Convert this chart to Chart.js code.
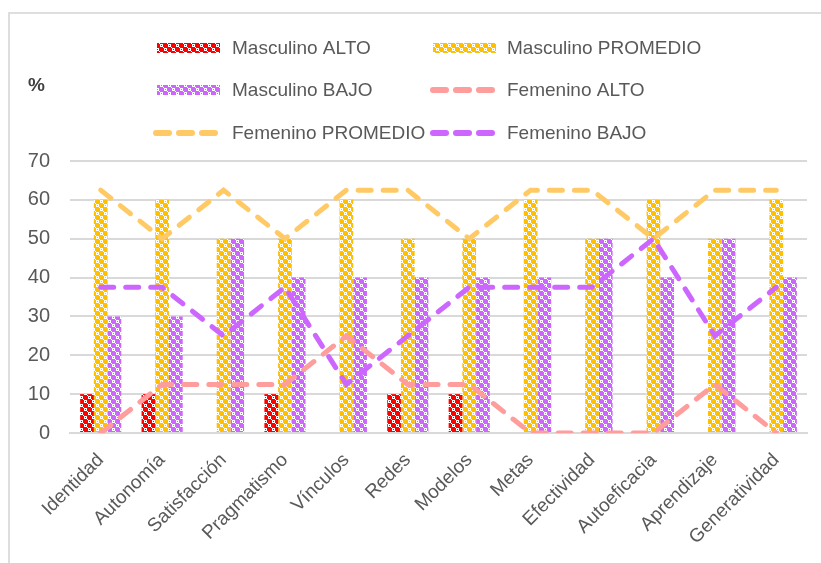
<!DOCTYPE html>
<html>
<head>
<meta charset="utf-8">
<script src="https://cdn.jsdelivr.net/npm/chart.js@4"></script>
<style>
  html,body{margin:0;padding:0;background:#fff;overflow:hidden;}
  #frame{position:absolute;left:8px;top:12px;width:830px;height:570px;border:2px solid #dedede;box-sizing:border-box;}
  #wrap{position:absolute;left:0;top:0;width:821px;height:563px;}
</style>
</head>
<body>
<div id="frame"></div>
<div id="wrap"><canvas id="c" width="821" height="563"></canvas></div>
<script>
// ---- data ----
const categories = ["Identidad","Autonomía","Satisfacción","Pragmatismo","Vínculos","Redes","Modelos","Metas","Efectividad","Autoeficacia","Aprendizaje","Generatividad"];
const masculinoAlto     = [10,10,0,10,0,10,10,0,0,0,0,0];
const masculinoPromedio = [60,60,50,50,60,50,50,60,50,60,50,60];
const masculinoBajo     = [30,30,50,40,40,40,40,40,50,40,50,40];
const femeninoAlto      = [0,12.5,12.5,12.5,25,12.5,12.5,0,0,0,12.5,0];
const femeninoPromedio  = [62.5,50,62.5,50,62.5,62.5,50,62.5,62.5,50,62.5,62.5];
const femeninoBajo      = [37.5,37.5,25,37.5,12.5,25,37.5,37.5,37.5,50,25,37.5];
const yTicks = [0,10,20,30,40,50,60,70];
const yAxisTitle = "%";

// ---- styles ----
const RED = "#ff0000", YEL = "#ffc000", PUR = "#cc66ff";
const L_PINK = "#ff9c9c", L_YEL = "#ffca66", L_PUR = "#cc66ff";
const TXT = "#595959";
const FONT = "'Liberation Sans', Arial, sans-serif";

function makePattern(color){
  const t = document.createElement("canvas");
  t.width = 8; t.height = 8;
  const g = t.getContext("2d");
  g.fillStyle = color; g.fillRect(0,0,8,8);
  g.fillStyle = "#ffffff";
  g.fillRect(0,4,3,3);
  g.fillRect(4,0,3,3);
  g.fillRect(3,7,1,1);
  g.fillRect(7,3,1,1);
  g.fillStyle = color;
  g.fillRect(1,5,1,1);
  g.fillRect(5,1,1,1);
  return g.createPattern(t,"repeat");
}
const ctx0 = document.getElementById("c").getContext("2d");
const pRed = makePattern(RED), pYel = makePattern(YEL), pPur = makePattern(PUR);

const barDs = (label, data, pat) => ({
  type:"bar", label, data, backgroundColor:pat, borderWidth:0,
  categoryPercentage:0.67, barPercentage:1.0, order:2
});
const lineDs = (label, data, col) => ({
  type:"line", label, data, borderColor:col, backgroundColor:col,
  borderWidth:5, borderDash:[13,12], borderCapStyle:"round",
  pointRadius:0, tension:0, fill:false, order:1
});

const legendItems = [
  {label:"Masculino ALTO", kind:"bar", style:pRed, x:157, tx:232, y:48},
  {label:"Masculino PROMEDIO", kind:"bar", style:pYel, x:433, tx:507, y:48},
  {label:"Masculino BAJO", kind:"bar", style:pPur, x:157, tx:232, y:90},
  {label:"Femenino ALTO", kind:"line", style:L_PINK, x:430, tx:507, y:90},
  {label:"Femenino PROMEDIO", kind:"line", style:L_YEL, x:153, tx:232, y:133},
  {label:"Femenino BAJO", kind:"line", style:L_PUR, x:430, tx:507, y:133}
];

const legendPlugin = {
  id:"customLegend",
  afterDraw(chart){
    const ctx = chart.ctx;
    ctx.save();
    ctx.font = "19px " + FONT;
    ctx.textBaseline = "middle";
    ctx.textAlign = "left";
    legendItems.forEach(it=>{
      if(it.kind==="bar"){
        ctx.fillStyle = it.style;
        ctx.fillRect(it.x, it.y-5, 63, 10);
      } else {
        ctx.strokeStyle = it.style;
        ctx.lineWidth = 6;
        ctx.lineCap = "round";
        ctx.setLineDash([13,10]);
        ctx.beginPath();
        ctx.moveTo(it.x+3, it.y); ctx.lineTo(it.x+63, it.y);
        ctx.stroke();
        ctx.setLineDash([]);
      }
      ctx.fillStyle = TXT;
      ctx.fillText(it.label, it.tx, it.y+1);
    });
    ctx.font = "bold 19px " + FONT;
    ctx.fillStyle = "#404040";
    ctx.fillText(yAxisTitle, 28, 86);
    ctx.restore();
  }
};

new Chart(ctx0, {
  data:{
    labels:categories,
    datasets:[
      barDs("Masculino ALTO", masculinoAlto, pRed),
      barDs("Masculino PROMEDIO", masculinoPromedio, pYel),
      barDs("Masculino BAJO", masculinoBajo, pPur),
      lineDs("Femenino ALTO", femeninoAlto, L_PINK),
      lineDs("Femenino PROMEDIO", femeninoPromedio, L_YEL),
      lineDs("Femenino BAJO", femeninoBajo, L_PUR)
    ]
  },
  options:{
    responsive:false,
    animation:false,
    layout:{padding:{top:161, left:0, right:14, bottom:0}},
    plugins:{legend:{display:false}, tooltip:{enabled:false}},
    scales:{
      x:{
        offset:true,
        grid:{display:false, drawTicks:false},
        border:{display:true, color:"#d9d9d9", width:2},
        ticks:{color:TXT, font:{family:FONT, size:19}, maxRotation:45, minRotation:45, padding:16, autoSkip:false},
        afterFit(s){ s.paddingLeft = 0; s.paddingRight = 0; s.height = 130; }
      },
      y:{
        min:0, max:70,
        afterBuildTicks(axis){ axis.ticks = yTicks.map(v=>({value:v})); },
        grid:{color:"#d9d9d9", lineWidth:2, drawTicks:false},
        border:{display:false},
        ticks:{color:TXT, font:{family:FONT, size:20}, padding:20},
        afterFit(s){ s.width = 70; s.paddingTop = 0; s.paddingBottom = 0; }
      }
    }
  },
  plugins:[legendPlugin]
});
</script>
</body>
</html>
